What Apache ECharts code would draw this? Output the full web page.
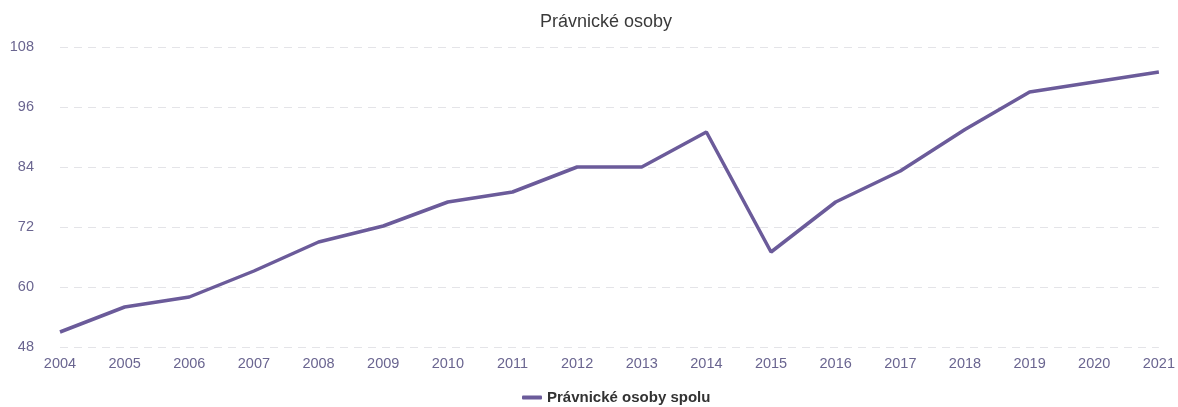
<!DOCTYPE html>
<html>
<head>
<meta charset="utf-8">
<script src="https://cdn.jsdelivr.net/npm/echarts@6/dist/echarts.min.js"></script>
<style>html,body{margin:0;padding:0;background:#fff}#c{width:1178px;height:407px}</style>
</head>
<body>
<div id="c"></div>
<script>
const categories = ['2004','2005','2006','2007','2008','2009','2010','2011','2012','2013','2014','2015','2016','2017','2018','2019','2020','2021'];
const values = [51, 56, 58, 63.2, 69, 72.2, 77, 79, 84, 84, 91, 67, 77, 83.2, 91.5, 99, 101, 103];
const seriesName = 'Právnické osoby spolu';
const titleText = 'Právnické osoby';

const chart = echarts.init(document.getElementById('c'));
chart.setOption({
  animation: false,
  title: {
    text: titleText, left: 601, top: 8, textAlign: 'center',
    textStyle: { fontFamily: 'Liberation Sans, Arial, sans-serif', fontSize: 18, fontWeight: 'normal', color: '#3a3a3a' }
  },
  legend: {
    top: 385, left: 517,
    itemWidth: 20, itemHeight: 4, itemGap: 10,
    icon: 'roundRect',
    textStyle: { fontFamily: 'Liberation Sans, Arial, sans-serif', fontSize: 15, fontWeight: 'bold', color: '#333' },
    data: [seriesName]
  },
  grid: { left: 60, right: 18, top: 47, bottom: 60 },
  xAxis: {
    type: 'category', data: categories, boundaryGap: false,
    axisLine: { show: false }, axisTick: { show: false },
    axisLabel: { margin: 9, fontSize: 14.5, color: '#6a6590', fontFamily: 'Liberation Sans, Arial, sans-serif' }
  },
  yAxis: {
    type: 'value', min: 48, max: 108, interval: 12,
    axisLine: { show: false }, axisTick: { show: false },
    axisLabel: { margin: 26, fontSize: 14.5, color: '#6a6590', fontFamily: 'Liberation Sans, Arial, sans-serif' },
    splitLine: { lineStyle: { type: [8, 6], color: '#e4e4e8', width: 1 } }
  },
  series: [{
    name: seriesName, type: 'line', data: values,
    showSymbol: false, symbol: 'none',
    lineStyle: { color: '#6b5b9a', width: 3.5 },
    itemStyle: { color: '#6b5b9a' }
  }]
});
</script>
</body>
</html>
